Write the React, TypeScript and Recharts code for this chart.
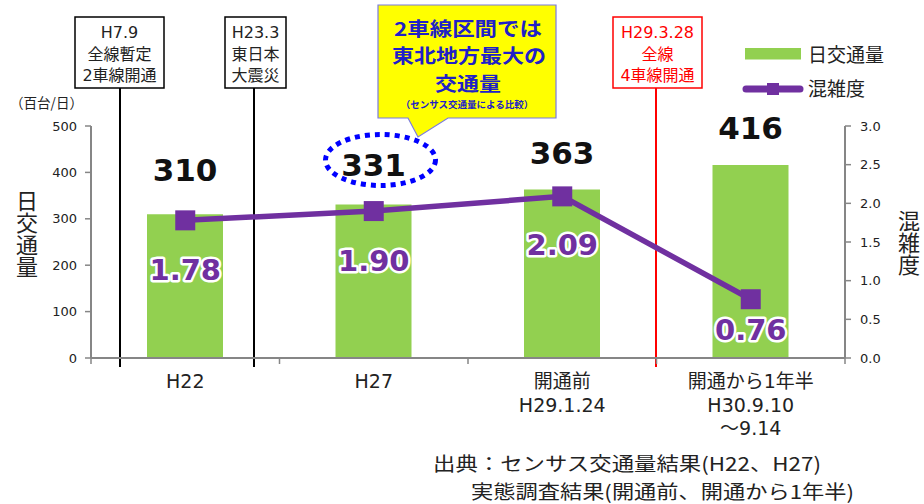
import React from 'react';
import { ComposedChart, Bar, Line, XAxis, YAxis, LabelList } from 'recharts';

const categories = ['H22', 'H27', '開通前\nH29.1.24', '開通から1年半\nH30.9.10\n～9.14'];
const trafficValues = [310, 331, 363, 416];
const congestionValues = [1.78, 1.9, 2.09, 0.76];
const leftTicks = [0, 100, 200, 300, 400, 500];
const rightTicks = [0, 0.5, 1, 1.5, 2, 2.5, 3];

const data = categories.map((name, i) => ({
  name,
  traffic: trafficValues[i],
  congestion: congestionValues[i],
}));

const FONT = '"DejaVu Sans", "Noto Sans CJK JP", sans-serif';
const JP = '"Noto Sans CJK JP", "DejaVu Sans", sans-serif';
const W = 924;
const H = 504;
const M_TOP = 126;
const X_AXIS_H = 30;
const PLOT_BOTTOM = 358;
const M_BOTTOM = H - PLOT_BOTTOM - X_AXIS_H;
const LEFT_W = 91;
const RIGHT_W = 79;
const BAND = (W - LEFT_W - RIGHT_W) / categories.length;
const GREEN = '#92D050';
const PURPLE = '#7030A0';
const AXIS = '#868686';

const barLabelGap = [44, 39, 37, 37];
const lineLabelGap = [50, 50, 49, 31];

function CategoryTick(props: any) {
  const { x, payload } = props;
  const index = props.index ?? payload.index ?? 0;
  const lines = String(payload.value).split('\n');
  const left = x - BAND / 2;
  const right = x + BAND / 2;
  return (
    <g>
      <line x1={left} x2={left} y1={PLOT_BOTTOM} y2={PLOT_BOTTOM + 6} stroke={AXIS} strokeWidth={1.5} />
      {index === categories.length - 1 && (
        <line x1={right} x2={right} y1={PLOT_BOTTOM} y2={PLOT_BOTTOM + 6} stroke={AXIS} strokeWidth={1.5} />
      )}
      <text x={x} y={PLOT_BOTTOM + 30} textAnchor="middle" fontSize={19} fill="#222" fontFamily={FONT}>
        {lines.map((l, i) => (
          <tspan key={i} x={x} dy={i === 0 ? 0 : 23.5}>
            {l}
          </tspan>
        ))}
      </text>
    </g>
  );
}

function BarValueLabel(props: any) {
  const { x, y, width, value, index } = props;
  return (
    <text
      x={x + width / 2}
      y={y - barLabelGap[index]}
      textAnchor="middle"
      dominantBaseline="central"
      fontSize={31}
      fontWeight="bold"
      fill="#111"
      fontFamily={FONT}
    >
      {value}
    </text>
  );
}

function LineValueLabel(props: any) {
  const { x, y, value, index } = props;
  return (
    <text
      x={x}
      y={y + lineLabelGap[index]}
      textAnchor="middle"
      dominantBaseline="central"
      fontSize={29}
      fontWeight="bold"
      fill={PURPLE}
      stroke="#ffffff"
      strokeWidth={5}
      strokeLinejoin="round"
      paintOrder="stroke"
      fontFamily={FONT}
    >
      {Number(value).toFixed(2)}
    </text>
  );
}

function SquareDot(props: any) {
  const { cx, cy, index } = props;
  return <rect key={`dot-${index}`} x={cx - 10} y={cy - 10} width={20} height={20} fill={PURPLE} />;
}

function InfoBox({ x, y, w, h, lines, color }: { x: number; y: number; w: number; h: number; lines: string[]; color: string }) {
  const cx = x + w / 2;
  return (
    <g>
      <rect x={x} y={y} width={w} height={h} fill="#fff" stroke={color} strokeWidth={1.5} />
      <text textAnchor="middle" fontSize={16} fill={color === '#000' ? '#222' : color} fontFamily={FONT}>
        {lines.map((l, i) => (
          <tspan key={i} x={cx} y={y + 21 + i * 21.5}>
            {l}
          </tspan>
        ))}
      </text>
    </g>
  );
}

function Annotations() {
  return (
    <svg width={W} height={H} style={{ position: 'absolute', left: 0, top: 0 }}>
      {/* vertical event lines */}
      <line x1={120} x2={120} y1={88} y2={367} stroke="#000" strokeWidth={2} />
      <line x1={254} x2={254} y1={88} y2={367} stroke="#000" strokeWidth={2} />
      <line x1={656} x2={656} y1={88} y2={367} stroke="#FF0000" strokeWidth={2} />

      <InfoBox x={75} y={17} w={89} h={71} lines={['H7.9', '全線暫定', '2車線開通']} color="#000" />
      <InfoBox x={225} y={17} w={61} h={71} lines={['H23.3', '東日本', '大震災']} color="#000" />
      <InfoBox x={613} y={17} w={89} h={71} lines={['H29.3.28', '全線', '4車線開通']} color="#FF0000" />

      {/* callout */}
      <path
        d="M378,5 L556,5 L556,118 L448,118 L418,137 L408,118 L378,118 Z"
        fill="#FFFF00"
        stroke="#7B7BE0"
        strokeWidth={1.2}
      />
      <text fontFamily={JP} fontWeight="bold" fill="#2020C8" textAnchor="middle" fontSize={19}>
        <tspan x={468} y={36} textLength={148} lengthAdjust="spacingAndGlyphs">2車線区間では</tspan>
        <tspan x={469} y={63} textLength={154} lengthAdjust="spacingAndGlyphs">東北地方最大の</tspan>
        <tspan x={468} y={91} textLength={66} lengthAdjust="spacingAndGlyphs">交通量</tspan>
        <tspan x={467} y={108} fontSize={9.5}>（センサス交通量による比較）</tspan>
      </text>

      {/* dotted ellipse */}
      <ellipse cx={380.5} cy={160} rx={55} ry={25.5} fill="none" stroke="#0000FF" strokeWidth={5} strokeDasharray="5 5" />

      {/* legend */}
      <rect x={745} y={48} width={56} height={11.5} fill={GREEN} />
      <text x={808} y={62} fontSize={19} fill="#222" fontFamily={JP}>日交通量</text>
      <line x1={746} x2={800} y1={89} y2={89} stroke={PURPLE} strokeWidth={7} strokeLinecap="round" />
      <rect x={767} y={83} width={12} height={12} fill={PURPLE} />
      <text x={808} y={96} fontSize={19} fill="#222" fontFamily={JP}>混雑度</text>

      {/* axis titles */}
      <text x={10} y={108} fontSize={14} fill="#222" fontFamily={JP} textLength={73} lengthAdjust="spacingAndGlyphs">（百台/日）</text>
      <text x={27} y={190} fontSize={22} fill="#222" fontFamily={JP} style={{ writingMode: 'vertical-rl' }}>日交通量</text>
      <text x={909} y={210} fontSize={22} fill="#222" fontFamily={JP} style={{ writingMode: 'vertical-rl' }}>混雑度</text>

      {/* source */}
      <text x={433} y={471} fontSize={19} fill="#222" fontFamily={JP} textLength={388} lengthAdjust="spacingAndGlyphs">
        出典：センサス交通量結果(H22、H27)
      </text>
      <text x={471} y={499} fontSize={19} fill="#222" fontFamily={JP} textLength={383} lengthAdjust="spacingAndGlyphs">
        実態調査結果(開通前、開通から1年半)
      </text>
    </svg>
  );
}

export default function App() {
  return (
    <div style={{ position: 'absolute', left: 0, top: 0, width: W, height: H, background: '#fff' }}>
      <Annotations />
      <div style={{ position: 'absolute', left: 0, top: 0 }}>
        <ComposedChart width={W} height={H} data={data} margin={{ top: M_TOP, right: 0, bottom: M_BOTTOM, left: 0 }}>
          <XAxis
            dataKey="name"
            interval={0}
            tickLine={false}
            axisLine={{ stroke: AXIS, strokeWidth: 2 }}
            tick={<CategoryTick />}
            height={X_AXIS_H}
          />
          <YAxis
            yAxisId="left"
            orientation="left"
            width={LEFT_W}
            domain={[0, 500]}
            ticks={leftTicks}
            interval={0}
            tickSize={6}
            tickMargin={8}
            axisLine={{ stroke: AXIS, strokeWidth: 2 }}
            tickLine={{ stroke: AXIS, strokeWidth: 1.5 }}
            tick={{ fontSize: 13, fill: '#222', fontFamily: FONT }}
          />
          <YAxis
            yAxisId="right"
            orientation="right"
            width={RIGHT_W}
            domain={[0, 3]}
            ticks={rightTicks}
            interval={0}
            tickSize={6}
            tickMargin={9}
            tickFormatter={(v: number) => v.toFixed(1)}
            axisLine={{ stroke: AXIS, strokeWidth: 2 }}
            tickLine={{ stroke: AXIS, strokeWidth: 1.5 }}
            tick={{ fontSize: 13, fill: '#222', fontFamily: FONT }}
          />
          <Bar yAxisId="left" dataKey="traffic" fill={GREEN} barSize={76} isAnimationActive={false}>
            <LabelList dataKey="traffic" content={<BarValueLabel />} />
          </Bar>
          <Line
            yAxisId="right"
            dataKey="congestion"
            type="linear"
            stroke={PURPLE}
            strokeWidth={5.5}
            dot={<SquareDot />}
            activeDot={false}
            isAnimationActive={false}
          >
            <LabelList dataKey="congestion" content={<LineValueLabel />} />
          </Line>
        </ComposedChart>
      </div>
    </div>
  );
}
